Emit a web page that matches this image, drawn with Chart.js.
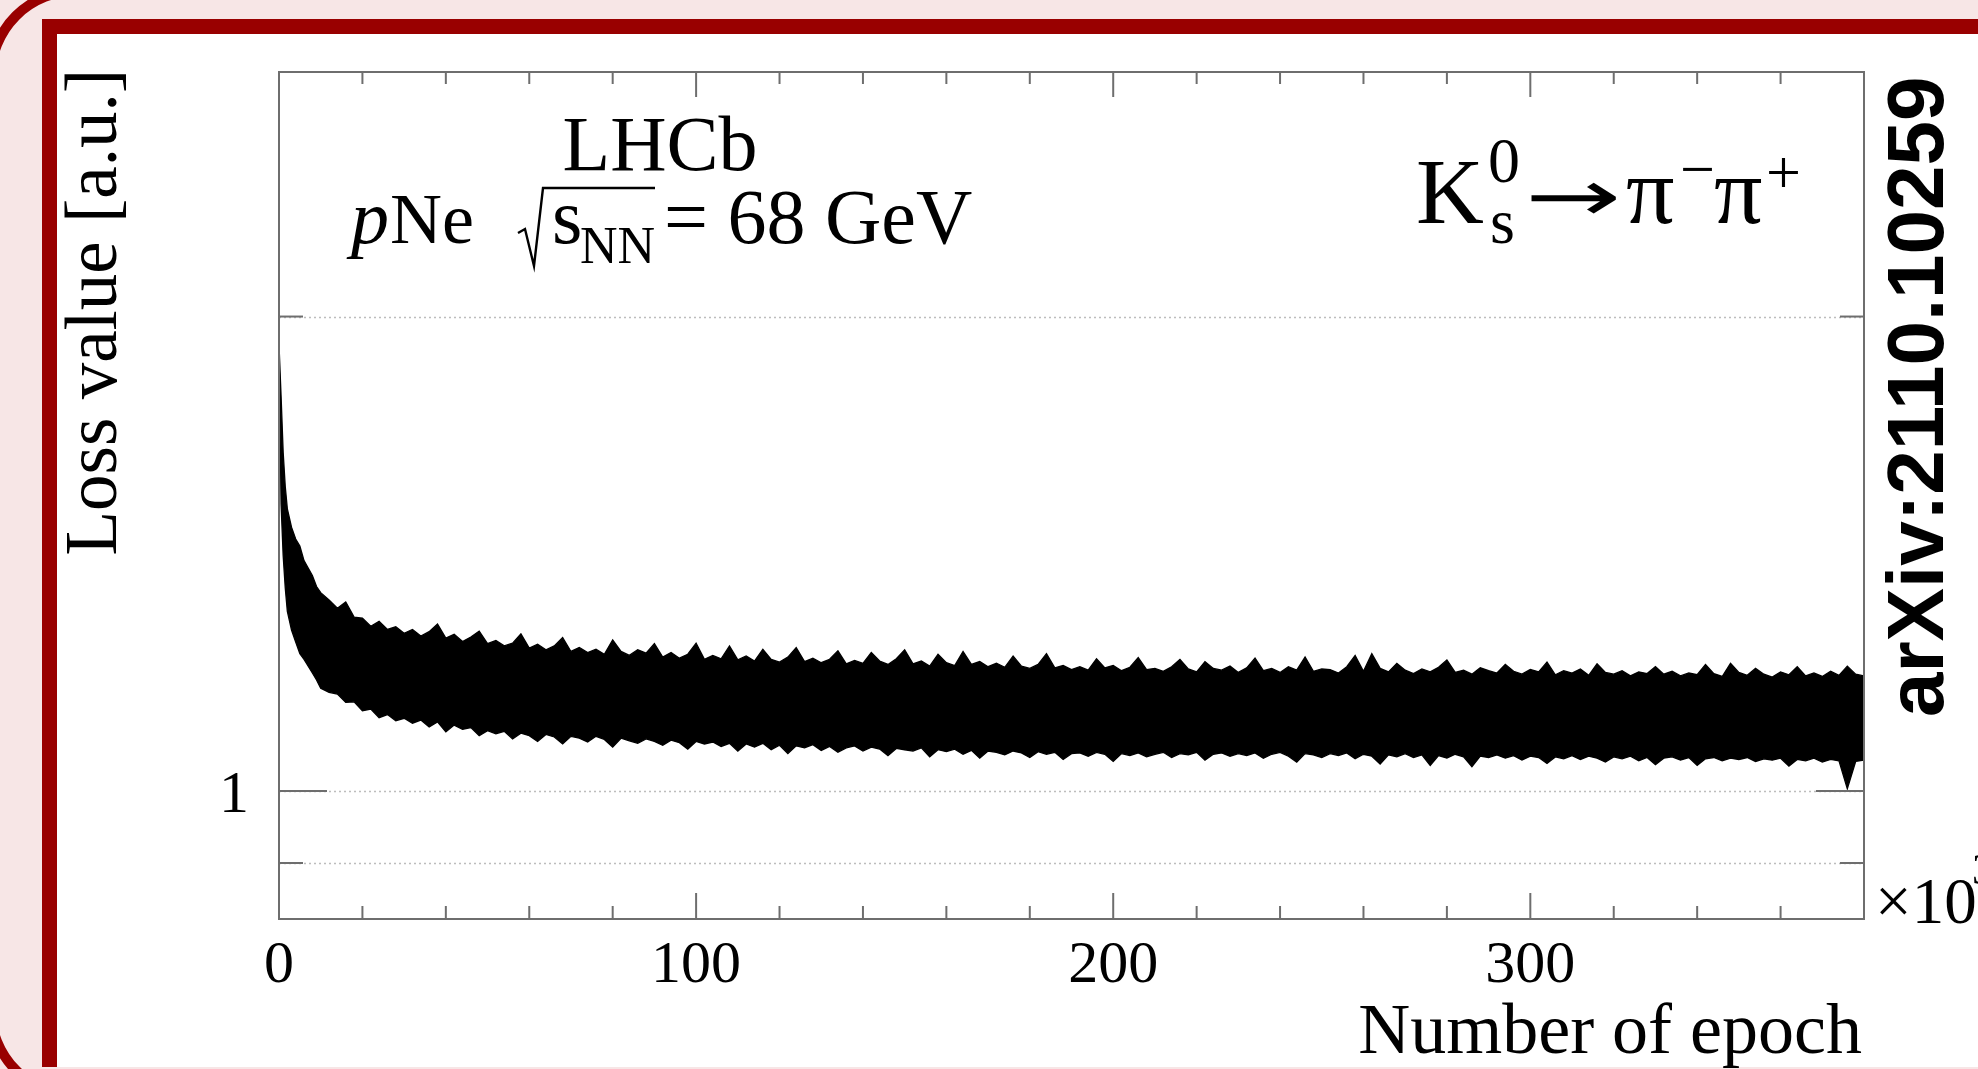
<!DOCTYPE html>
<html>
<head>
<meta charset="utf-8">
<script src="https://cdn.jsdelivr.net/npm/chart.js@4.4.0/dist/chart.umd.min.js"></script>
<style>
  html, body { margin: 0; padding: 0; }
  body { width: 1978px; height: 1069px; overflow: hidden; position: relative; background: #f7e6e6; }
  .outer { position: absolute; left: -14px; top: -14px; width: 2100px; height: 1114px;
           border: 10px solid #990000; border-radius: 90px; box-sizing: border-box; }
  .panel { position: absolute; left: 42px; top: 19px; width: 2000px; height: 1048px; background: #fff;
           border-left: 15px solid #990000; border-top: 15px solid #990000; box-sizing: border-box; }
  #c { position: absolute; left: 0; top: 0; }
</style>
</head>
<body>
<div class="outer"></div>
<div class="panel"></div>
<canvas id="c" width="1978" height="1069"></canvas>
<script>
// ---------- data (epoch in units of 10^3) ----------
const epochs = [0, 0.5, 1, 1.5, 2, 3, 4, 5, 6, 7, 8, 9, 10];
for (let e = 12; e <= 380; e += 2) epochs.push(e);

// upper edge of the noisy loss band
const lossUpper = [
  1.92, 1.78, 1.64, 1.56, 1.51, 1.47, 1.445, 1.43, 1.40, 1.385, 1.37, 1.348, 1.336,
  1.322, 1.306, 1.318, 1.289, 1.287, 1.272, 1.281, 1.266, 1.271, 1.259,
  1.266, 1.254, 1.262, 1.276, 1.250, 1.257, 1.244, 1.252, 1.263, 1.240,
  1.246, 1.236, 1.241, 1.258, 1.232, 1.239, 1.229, 1.236, 1.251, 1.226,
  1.233, 1.224, 1.230, 1.221, 1.247, 1.226, 1.219, 1.229, 1.223, 1.240,
  1.216, 1.224, 1.214, 1.221, 1.241, 1.212, 1.219, 1.213, 1.236, 1.211,
  1.218, 1.209, 1.230, 1.212, 1.207, 1.216, 1.233, 1.208, 1.214, 1.206,
  1.212, 1.227, 1.204, 1.210, 1.205, 1.224, 1.209, 1.203, 1.213, 1.229,
  1.204, 1.209, 1.200, 1.221, 1.206, 1.201, 1.226, 1.203, 1.208, 1.199,
  1.205, 1.198, 1.218, 1.200, 1.196, 1.203, 1.222, 1.197, 1.201, 1.194,
  1.199, 1.193, 1.213, 1.197, 1.201, 1.192, 1.198, 1.215, 1.194, 1.196,
  1.191, 1.199, 1.212, 1.195, 1.190, 1.208, 1.196, 1.193, 1.200, 1.189,
  1.197, 1.214, 1.192, 1.196, 1.189, 1.199, 1.193, 1.216, 1.191, 1.195,
  1.194, 1.188, 1.199, 1.219, 1.191, 1.222, 1.196, 1.190, 1.205, 1.193,
  1.187, 1.195, 1.190, 1.198, 1.211, 1.189, 1.193, 1.186, 1.197, 1.192,
  1.188, 1.203, 1.191, 1.186, 1.194, 1.190, 1.207, 1.185, 1.192, 1.188,
  1.195, 1.184, 1.204, 1.189, 1.186, 1.192, 1.183, 1.190, 1.187, 1.199,
  1.186, 1.191, 1.183, 1.188, 1.185, 1.203, 1.187, 1.182, 1.205, 1.189,
  1.184, 1.196, 1.186, 1.181, 1.190, 1.185, 1.199, 1.183, 1.188, 1.182,
  1.191, 1.184, 1.200, 1.186, 1.183
];

// lower edge of the noisy loss band
const lossLower = [
  1.92, 1.52, 1.41, 1.345, 1.30, 1.265, 1.243, 1.222, 1.212, 1.20, 1.188, 1.176, 1.162,
  1.155, 1.152, 1.138, 1.139, 1.124, 1.127, 1.113, 1.118, 1.108, 1.112,
  1.104, 1.109, 1.098, 1.106, 1.090, 1.101, 1.094, 1.097, 1.084, 1.092,
  1.087, 1.091, 1.079, 1.088, 1.084, 1.075, 1.086, 1.082, 1.071, 1.083,
  1.080, 1.074, 1.083, 1.078, 1.066, 1.080, 1.076, 1.072, 1.079, 1.075,
  1.069, 1.077, 1.073, 1.063, 1.075, 1.071, 1.074, 1.067, 1.072, 1.060,
  1.071, 1.066, 1.072, 1.062, 1.069, 1.056, 1.068, 1.065, 1.070, 1.061,
  1.067, 1.058, 1.065, 1.068, 1.060, 1.066, 1.063, 1.053, 1.064, 1.062,
  1.060, 1.065, 1.051, 1.062, 1.059, 1.063, 1.055, 1.061, 1.049, 1.060,
  1.058, 1.054, 1.060, 1.057, 1.050, 1.059, 1.055, 1.058, 1.047, 1.056,
  1.057, 1.052, 1.058, 1.055, 1.044, 1.056, 1.053, 1.057, 1.051, 1.055,
  1.058, 1.050, 1.056, 1.054, 1.058, 1.046, 1.055, 1.057, 1.052, 1.056,
  1.053, 1.057, 1.049, 1.055, 1.058, 1.052, 1.043, 1.056, 1.054, 1.050,
  1.056, 1.053, 1.057, 1.048, 1.055, 1.052, 1.040, 1.054, 1.051, 1.056,
  1.050, 1.054, 1.038, 1.053, 1.049, 1.055, 1.051, 1.036, 1.052, 1.050,
  1.054, 1.049, 1.053, 1.046, 1.052, 1.050, 1.041, 1.051, 1.048, 1.053,
  1.047, 1.052, 1.049, 1.043, 1.051, 1.048, 1.052, 1.045, 1.050, 1.039,
  1.049, 1.051, 1.046, 1.050, 1.038, 1.048, 1.050, 1.045, 1.049, 1.047,
  1.050, 1.044, 1.048, 1.046, 1.049, 1.037, 1.047, 1.045, 1.049, 1.043,
  1.047, 1.045, 1.003, 1.044, 1.046
];

// axes
const xMin = 0, xMax = 380, xMinorStep = 20;
const xTickLabels = [0, 100, 200, 300];
const yMin = 0.8293, yMax = 2.859;
const yTicks = [0.9, 1, 2];
const yTickLabels = [1];

const SERIF = '"Liberation Serif", "Times New Roman", serif';

// ---------- helpers ----------
function txt(ctx, s, x, y, size, opts = {}) {
  ctx.save();
  ctx.font = (opts.style || '') + ' ' + (opts.weight || '') + ' ' + size + 'px ' + (opts.family || SERIF);
  ctx.fillStyle = '#000';
  ctx.textAlign = opts.align || 'left';
  ctx.textBaseline = 'alphabetic';
  if (opts.rotate) {
    ctx.translate(x, y);
    ctx.rotate(opts.rotate);
    ctx.fillText(s, 0, 0);
  } else if (opts.sx) {
    ctx.translate(x, y);
    ctx.scale(opts.sx, 1);
    ctx.fillText(s, 0, 0);
  } else {
    ctx.fillText(s, x, y);
  }
  ctx.restore();
}

function seg(ctx, x1, y1, x2, y2) {
  ctx.beginPath();
  ctx.moveTo(x1, y1);
  ctx.lineTo(x2, y2);
  ctx.stroke();
}

// ---------- ROOT-like frame, ticks, grid and labels ----------
const rootStyle = {
  id: 'rootStyle',
  beforeDatasetsDraw(chart) {
    const { ctx, chartArea: a, scales: { y } } = chart;
    ctx.save();
    ctx.strokeStyle = '#bdbdbd';
    ctx.lineWidth = 1.5;
    ctx.setLineDash([2, 3]);
    yTicks.forEach(v => {
      const py = Math.round(y.getPixelForValue(v)) + 0.5;
      seg(ctx, a.left, py, a.right, py);
    });
    ctx.restore();
  },
  afterDatasetsDraw(chart) {
    const { ctx, chartArea: a, scales: { x, y } } = chart;
    ctx.save();
    ctx.strokeStyle = '#6e6e6e';
    ctx.lineWidth = 2;
    ctx.strokeRect(a.left, a.top, a.right - a.left, a.bottom - a.top);

    // x ticks, bottom and top
    for (let v = xMin; v <= xMax; v += xMinorStep) {
      const px = x.getPixelForValue(v);
      const major = v % 100 === 0;
      seg(ctx, px, a.bottom, px, a.bottom - (major ? 26 : 13));
      seg(ctx, px, a.top, px, a.top + (major ? 25 : 12));
    }
    // y ticks, left and right
    yTicks.forEach(v => {
      const py = y.getPixelForValue(v);
      const len = yTickLabels.includes(v) ? 48 : 24;
      seg(ctx, a.left, py, a.left + len, py);
      seg(ctx, a.right - len, py, a.right, py);
    });
    ctx.restore();

    // tick labels
    xTickLabels.forEach(v => txt(ctx, String(v), x.getPixelForValue(v), 982, 60, { align: 'center' }));
    yTickLabels.forEach(v => txt(ctx, String(v), 249, y.getPixelForValue(v) + 21, 60, { align: 'right' }));
    txt(ctx, '\u00d710', 1875, 923, 65);
    txt(ctx, '3', 1972, 884, 44);

    // axis titles
    txt(ctx, 'Number of epoch', 1862, 1053, 72, { align: 'right' });
    txt(ctx, 'Loss value [a.u.]', 116, 69, 73, { align: 'right', rotate: -Math.PI / 2 });

    // LHCb label
    txt(ctx, 'LHCb', 660, 170, 78, { align: 'center' });
    txt(ctx, 'p', 351, 243, 76, { style: 'italic' });
    txt(ctx, 'Ne', 390, 243, 72);
    ctx.save();
    ctx.strokeStyle = '#000';
    ctx.lineWidth = 2.4;
    ctx.beginPath();
    ctx.moveTo(518, 233);
    ctx.lineTo(525, 229);
    ctx.lineTo(534, 266);
    ctx.lineTo(543, 188);
    ctx.lineTo(655, 188);
    ctx.stroke();
    ctx.restore();
    txt(ctx, 's', 552, 243, 78);
    txt(ctx, 'NN', 580, 263, 52);
    txt(ctx, '= 68 GeV', 664, 243, 78);

    // decay label
    txt(ctx, 'K', 1416, 223, 94);
    txt(ctx, '0', 1488, 182, 64);
    txt(ctx, 's', 1490, 243, 64);
    txt(ctx, '\u2192', 1525, 221, 72, { family: '"DejaVu Sans", sans-serif', sx: 1.6 });
    txt(ctx, '\u03c0', 1626, 223, 96);
    txt(ctx, '\u2212', 1680, 190, 62);
    txt(ctx, '\u03c0', 1714, 223, 96);
    txt(ctx, '+', 1766, 193, 62);

    // arXiv stamp
    txt(ctx, 'arXiv:2110.10259', 1943, 717, 80,
        { family: '"Liberation Sans", Arial, sans-serif', weight: 'bold', rotate: -Math.PI / 2 });
  }
};

const toPoints = vals => vals.map((v, i) => ({ x: epochs[i], y: v }));

new Chart(document.getElementById('c').getContext('2d'), {
  type: 'line',
  data: {
    datasets: [
      {
        label: 'upper',
        data: toPoints(lossUpper),
        borderColor: '#000',
        backgroundColor: '#000',
        borderWidth: 1.3,
        pointRadius: 0,
        tension: 0,
        fill: '+1'
      },
      {
        label: 'lower',
        data: toPoints(lossLower),
        borderColor: '#000',
        borderWidth: 1.3,
        pointRadius: 0,
        tension: 0,
        fill: false
      }
    ]
  },
  options: {
    responsive: false,
    animation: false,
    devicePixelRatio: 1,
    layout: { padding: { left: 279, top: 72, right: 114, bottom: 150 } },
    plugins: { legend: { display: false }, tooltip: { enabled: false } },
    scales: {
      x: { type: 'linear', min: xMin, max: xMax, display: false },
      y: { type: 'logarithmic', min: yMin, max: yMax, display: false }
    }
  },
  plugins: [rootStyle]
});
</script>
</body>
</html>
